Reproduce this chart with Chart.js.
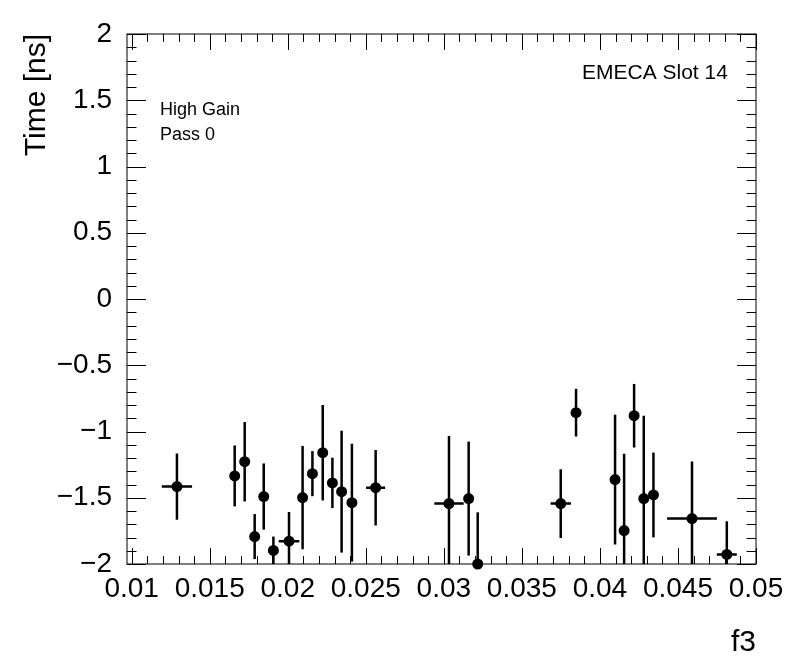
<!DOCTYPE html>
<html>
<head>
<meta charset="utf-8">
<script src="https://cdn.jsdelivr.net/npm/chart.js@4.4.1/dist/chart.umd.min.js"></script>
<style>
  body { margin: 0; background: #fff; }
</style>
</head>
<body>
<canvas id="myChart" width="796" height="672"></canvas>
<script>
// valores
const xValues = [0.01290, 0.01660, 0.01724, 0.01788, 0.01846, 0.01908, 0.02008, 0.02095, 0.02158, 0.02224,
                 0.02286, 0.02345, 0.02411, 0.02563, 0.03033, 0.03159, 0.03217, 0.03749, 0.03847, 0.04097,
                 0.04155, 0.04219, 0.04281, 0.04343, 0.04590, 0.04813];
const yValues = [-1.416, -1.335, -1.228, -1.793, -1.491, -1.898, -1.828, -1.499, -1.318, -1.160,
                 -1.388, -1.454, -1.537, -1.424, -1.544, -1.506, -2.000, -1.544, -0.858, -1.363,
                 -1.748, -0.881, -1.506, -1.479, -1.657, -1.928];
const xErrors = [0.00097, 0, 0, 0, 0, 0, 0.00066, 0, 0, 0,
                 0, 0, 0, 0.00061, 0.00094, 0, 0, 0.00065, 0, 0,
                 0, 0, 0, 0, 0.0016, 0.00064];
const yErrors = [0.25, 0.23, 0.30, 0.17, 0.25, 0.105, 0.22, 0.39, 0.17, 0.36,
                 0.19, 0.46, 0.445, 0.285, 0.51, 0.43, 0.39, 0.26, 0.18, 0.49,
                 0.58, 0.24, 0.625, 0.32, 0.43, 0.25];

const xTickValues = [0.01, 0.015, 0.02, 0.025, 0.03, 0.035, 0.04, 0.045, 0.05];
const xTickLabels = ['0.01', '0.015', '0.02', '0.025', '0.03', '0.035', '0.04', '0.045', '0.05'];
const yTickValues = [-2, -1.5, -1, -0.5, 0, 0.5, 1, 1.5, 2];
const yTickLabels = ['\u22122', '\u22121.5', '\u22121', '\u22120.5', '0', '0.5', '1', '1.5', '2'];

const fonte = '"Liberation Sans", Arial, sans-serif';

// Plugin que faz as barras de erro, a moldura, os ticks e os textos
const estiloRoot = {
    id: 'estiloRoot',
    beforeDatasetsDraw(chart) {
        const ctx = chart.ctx;
        const xs = chart.scales.x;
        const ys = chart.scales.y;
        const area = chart.chartArea;
        ctx.save();
        ctx.beginPath();
        ctx.rect(area.left, area.top, area.right - area.left, area.bottom - area.top);
        ctx.clip();
        ctx.strokeStyle = '#000';
        ctx.lineWidth = 2.5;
        for (let i = 0; i < xValues.length; i++) {
            const px = xs.getPixelForValue(xValues[i]);
            const py = ys.getPixelForValue(yValues[i]);
            ctx.beginPath();
            ctx.moveTo(px, ys.getPixelForValue(yValues[i] - yErrors[i]));
            ctx.lineTo(px, ys.getPixelForValue(yValues[i] + yErrors[i]));
            if (xErrors[i] > 0) {
                ctx.moveTo(xs.getPixelForValue(xValues[i] - xErrors[i]), py);
                ctx.lineTo(xs.getPixelForValue(xValues[i] + xErrors[i]), py);
            }
            ctx.stroke();
        }
        ctx.restore();
    },
    afterDraw(chart) {
        const ctx = chart.ctx;
        const xs = chart.scales.x;
        const ys = chart.scales.y;
        const a = chart.chartArea;
        ctx.save();
        ctx.strokeStyle = '#000';
        ctx.lineWidth = 1;
        ctx.strokeRect(a.left, a.top, a.right - a.left, a.bottom - a.top);

        ctx.beginPath();
        // ticks do eixo x (0.001 menores, 0.005 maiores)
        for (let k = 10; k <= 50; k++) {
            const px = Math.round(xs.getPixelForValue(k / 1000)) + 0.5;
            const len = (k % 5 === 0) ? 16 : 8;
            ctx.moveTo(px, a.bottom);
            ctx.lineTo(px, a.bottom - len);
            ctx.moveTo(px, a.top);
            ctx.lineTo(px, a.top + len);
        }
        // ticks do eixo y (0.1 menores, 0.5 maiores)
        for (let k = -20; k <= 20; k++) {
            const py = Math.round(ys.getPixelForValue(k / 10)) + 0.5;
            const len = (k % 5 === 0) ? 19 : 9.5;
            ctx.moveTo(a.left, py);
            ctx.lineTo(a.left + len, py);
            ctx.moveTo(a.right, py);
            ctx.lineTo(a.right - len, py);
        }
        ctx.stroke();

        ctx.fillStyle = '#000';
        ctx.textBaseline = 'alphabetic';
        ctx.textAlign = 'left';
        ctx.font = '18px ' + fonte;
        ctx.fillText('High Gain', 160, 115);
        ctx.fillText('Pass 0', 160, 140);
        ctx.font = '21px ' + fonte;
        ctx.fillText('EMECA Slot 14', 582, 79);
        ctx.restore();
    }
};

const pontos = xValues.map((x, i) => ({ x: x, y: yValues[i] }));

const grafico = document.getElementById('myChart');
new Chart(grafico, {
    type: 'scatter',
    data: {
        datasets: [{
            data: pontos,
            pointRadius: 5.5,
            pointHoverRadius: 5.5,
            pointStyle: 'circle',
            backgroundColor: '#000',
            borderColor: '#000',
            borderWidth: 0,
            clip: false
        }]
    },
    options: {
        responsive: false,
        animation: false,
        devicePixelRatio: 1,
        layout: {
            padding: { left: 0, right: 40, top: 34, bottom: 0 }
        },
        plugins: {
            legend: { display: false },
            tooltip: { enabled: false }
        },
        scales: {
            x: {
                type: 'linear',
                min: 0.0097,
                max: 0.05,
                afterBuildTicks: (s) => { s.ticks = xTickValues.map(v => ({ value: v })); },
                afterFit: (s) => { s.height = 108; },
                grid: { display: false },
                border: { display: false },
                ticks: {
                    autoSkip: false,
                    maxRotation: 0,
                    padding: 0,
                    color: '#000',
                    font: { family: fonte, size: 28 },
                    callback: (v, i) => xTickLabels[i]
                },
                title: {
                    display: true,
                    text: 'f3',
                    align: 'end',
                    color: '#000',
                    font: { family: fonte, size: 30 },
                    padding: { top: 0, bottom: 11 }
                }
            },
            y: {
                type: 'linear',
                min: -2,
                max: 2,
                afterBuildTicks: (s) => { s.ticks = yTickValues.map(v => ({ value: v })); },
                afterFit: (s) => { s.width = 127; },
                grid: { display: false },
                border: { display: false },
                ticks: {
                    autoSkip: false,
                    padding: 7,
                    color: '#000',
                    font: { family: fonte, size: 28 },
                    callback: (v, i) => yTickLabels[i]
                },
                title: {
                    display: true,
                    text: 'Time [ns]',
                    align: 'end',
                    color: '#000',
                    font: { family: fonte, size: 30 },
                    padding: { top: 19, bottom: 0 }
                }
            }
        }
    },
    plugins: [estiloRoot]
});
</script>
</body>
</html>
